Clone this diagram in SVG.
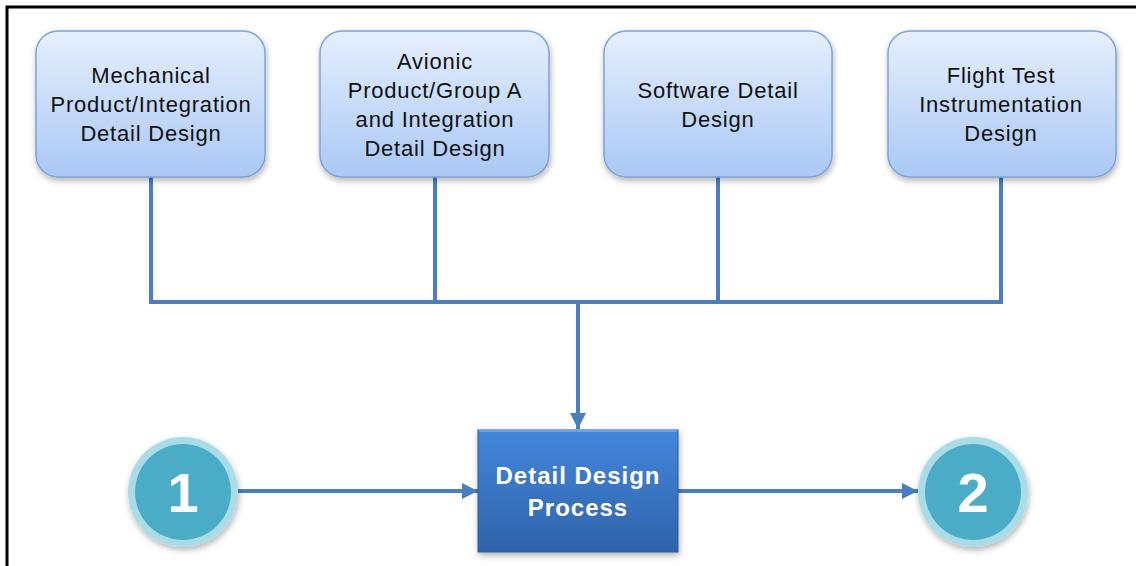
<svg xmlns="http://www.w3.org/2000/svg" width="1136" height="566" viewBox="0 0 1136 566">
<defs>
<linearGradient id="gBox" x1="0" y1="0" x2="0" y2="1">
<stop offset="0" stop-color="#e6effd"/>
<stop offset="1" stop-color="#a9c8f5"/>
</linearGradient>
<linearGradient id="gProc" x1="0" y1="0" x2="0" y2="1">
<stop offset="0" stop-color="#4487dc"/>
<stop offset="1" stop-color="#2f63aa"/>
</linearGradient>
<filter id="sh" x="-10%" y="-10%" width="125%" height="130%">
<feDropShadow dx="1" dy="3" stdDeviation="3" flood-color="#000" flood-opacity="0.3"/>
</filter>
<marker id="arr" viewBox="0 0 10 10" refX="10" refY="5" markerWidth="4" markerHeight="4" markerUnits="strokeWidth" orient="auto">
<path d="M0,0 L10,5 L0,10 z" fill="#4a7ebf"/>
</marker>
<style>
.box{fill:url(#gBox);stroke:#7da3d9;stroke-width:1.5;filter:url(#sh)}
.lbl{font-family:"Liberation Sans",Arial,sans-serif;font-size:22px;letter-spacing:0.8px;fill:#111;text-anchor:middle}
.conn{fill:none;stroke:#4a7ebf;stroke-width:4}
.plbl{font-family:"Liberation Sans",Arial,sans-serif;font-size:24px;letter-spacing:1px;font-weight:bold;fill:#fff;text-anchor:middle}
.num{font-family:"Liberation Sans",Arial,sans-serif;font-size:56px;font-weight:bold;fill:#fff;text-anchor:middle}
</style>
</defs>
<rect width="1136" height="566" fill="#fff"/>
<path d="M7,566 V7 H1136" fill="none" stroke="#000" stroke-width="3"/>

<g id="connectors">
<path class="conn" d="M151,177 V302 M435,177 V302 M718,177 V302 M1001,177 V302 M149,302 H1003"/>
<path class="conn" d="M578,302 V429" marker-end="url(#arr)"/>
<path class="conn" d="M238,491 H478" marker-end="url(#arr)"/>
<path class="conn" d="M678,491 H918" marker-end="url(#arr)"/>
</g>

<g id="n1">
<rect class="box" x="36" y="31" width="229" height="146" rx="22"/>
<text class="lbl" x="151" y="83">Mechanical</text>
<text class="lbl" x="151" y="112">Product/Integration</text>
<text class="lbl" x="151" y="141">Detail Design</text>
</g>
<g id="n2">
<rect class="box" x="320" y="31" width="229" height="146" rx="22"/>
<text class="lbl" x="435" y="69">Avionic</text>
<text class="lbl" x="435" y="98">Product/Group A</text>
<text class="lbl" x="435" y="127">and Integration</text>
<text class="lbl" x="435" y="156">Detail Design</text>
</g>
<g id="n3">
<rect class="box" x="604" y="31" width="228" height="146" rx="22"/>
<text class="lbl" x="718" y="98">Software Detail</text>
<text class="lbl" x="718" y="127">Design</text>
</g>
<g id="n4">
<rect class="box" x="888" y="31" width="228" height="146" rx="22"/>
<text class="lbl" x="1001" y="83">Flight Test</text>
<text class="lbl" x="1001" y="112">Instrumentation</text>
<text class="lbl" x="1001" y="141">Design</text>
</g>

<g id="process">
<rect x="478" y="430" width="200" height="122" fill="url(#gProc)" stroke="#2b5a9c" stroke-width="1" filter="url(#sh)"/>
<path d="M479,431 H677" stroke="#6aa3ea" stroke-width="2" fill="none"/>
<text class="plbl" x="578" y="484">Detail Design</text>
<text class="plbl" x="578" y="516">Process</text>
</g>

<g id="c1">
<circle cx="183" cy="492" r="55" fill="#a9dce6" filter="url(#sh)"/>
<circle cx="183" cy="492" r="48" fill="#4aacc6"/>
<text class="num" x="183" y="512">1</text>
</g>
<g id="c2">
<circle cx="973" cy="492" r="55" fill="#a9dce6" filter="url(#sh)"/>
<circle cx="973" cy="492" r="48" fill="#4aacc6"/>
<text class="num" x="973" y="512">2</text>
</g>
</svg>
